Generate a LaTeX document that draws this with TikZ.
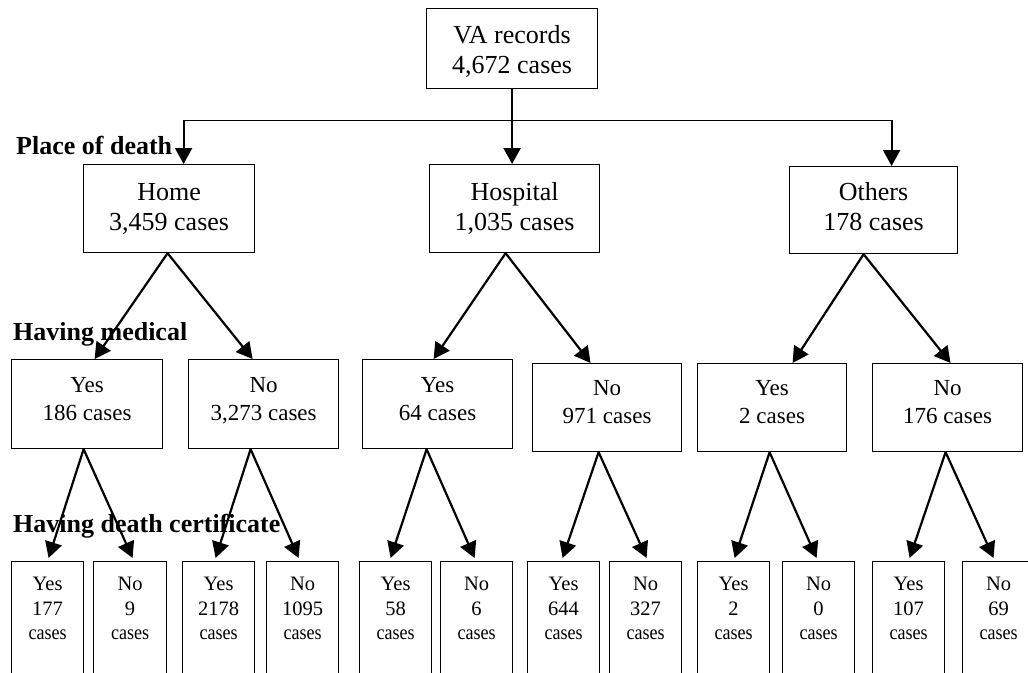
\documentclass[tikz,border=0pt]{standalone}
\usepackage{fontspec}
\setmainfont{Liberation Serif}
\newfontfamily\narrowserif{Liberation Serif}[FakeStretch=0.88]
\usetikzlibrary{arrows.meta}

% stacked, centred lines whose baseline is the first line
\newcommand\twolines[2]{\begin{tabular}[t]{@{}c@{}}#1\\#2\end{tabular}}
\newcommand\certlines[2]{\begin{tabular}[t]{@{}c@{}}#1\\#2\\{\narrowserif cases}\end{tabular}}

\tikzset{
  box/.style={draw, line width=1.2pt, inner sep=0pt, anchor=north west},
  rootbox/.style={box, minimum height=80pt},
  placebox/.style={box, minimum height=88pt},
  medbox/.style={box, minimum height=89pt},
  certbox/.style={box, minimum width=72pt, minimum height=140pt},
  bigtext/.style={anchor=base, inner sep=0pt, font=\fontsize{26}{30}\selectfont},
  midtext/.style={anchor=base, inner sep=0pt, font=\fontsize{23}{28}\selectfont},
  smalltext/.style={anchor=base, inner sep=0pt, font=\fontsize{20.5}{24.5}\selectfont},
  heading/.style={anchor=base west, inner sep=0pt, font=\bfseries\fontsize{26}{30}\selectfont},
  flow/.style={line width=2.2pt, -{Triangle[width=17pt,length=16pt]}},
  bus/.style={line width=1.3pt},
}

\begin{document}
\begin{tikzpicture}[x=1pt,y=-1pt]
\useasboundingbox (0,0) rectangle (1028,672);
\fill[white] (0,0) rectangle (1028,672);
\clip (0,0) rectangle (1028,672);

% ---- root and place of death
\node[rootbox, minimum width=171pt] (va) at (426,8) {};
\node[placebox, minimum width=171pt] (home) at (83,164) {};
\node[placebox, minimum width=170pt] (hosp) at (429,164) {};
\node[placebox, minimum width=168pt, minimum height=87pt] (oth) at (789,166) {};

\node[bigtext] (t-va)   at ([yshift=-35pt]va.north)   {\twolines{VA records}{4,672 cases}};
\node[bigtext] (t-home) at ([yshift=-36pt]home.north) {\twolines{Home}{3,459 cases}};
\node[bigtext] (t-hosp) at ([yshift=-36pt]hosp.north) {\twolines{Hospital}{1,035 cases}};
\node[bigtext] (t-oth)  at ([yshift=-34pt]oth.north)  {\twolines{Others}{178 cases}};

% ---- having medical
\node[medbox, minimum width=151pt] (hy) at (11,359) {};
\node[medbox, minimum width=150pt] (hn) at (188,359) {};
\node[medbox, minimum width=150pt] (py) at (362,359) {};
\node[medbox, minimum width=149pt, minimum height=88pt] (pn) at (532,363) {};
\node[medbox, minimum width=149pt, minimum height=88pt] (oy) at (697,363) {};
\node[medbox, minimum width=150pt, minimum height=88pt] (on) at (872,363) {};

\node[midtext] (t-hy) at ([yshift=-33pt]hy.north) {\twolines{Yes}{186 cases}};
\node[midtext] (t-hn) at ([yshift=-33pt]hn.north) {\twolines{No}{3,273 cases}};
\node[midtext] (t-py) at ([yshift=-33pt]py.north) {\twolines{Yes}{64 cases}};
\node[midtext] (t-pn) at ([yshift=-32pt]pn.north) {\twolines{No}{971 cases}};
\node[midtext] (t-oy) at ([yshift=-32pt]oy.north) {\twolines{Yes}{2 cases}};
\node[midtext] (t-on) at ([yshift=-32pt]on.north) {\twolines{No}{176 cases}};

% ---- having death certificate
\node[certbox] (hyy) at (11,561) {};
\node[certbox, minimum width=73pt] (hyn) at (93,561) {};
\node[certbox] (hny) at (182,561) {};
\node[certbox] (hnn) at (266,561) {};
\node[certbox] (pyy) at (359,561) {};
\node[certbox] (pyn) at (440,561) {};
\node[certbox] (pny) at (527,561) {};
\node[certbox] (pnn) at (609,561) {};
\node[certbox] (oyy) at (697,561) {};
\node[certbox] (oyn) at (782,561) {};
\node[certbox] (ony) at (872,561) {};
\node[certbox] (onn) at (962,561) {};

\node[smalltext] (t-hyy) at ([yshift=-29.5pt]hyy.north) {\certlines{Yes}{177}};
\node[smalltext] (t-hyn) at ([yshift=-29.5pt]hyn.north) {\certlines{No}{9}};
\node[smalltext] (t-hny) at ([yshift=-29.5pt]hny.north) {\certlines{Yes}{2178}};
\node[smalltext] (t-hnn) at ([yshift=-29.5pt]hnn.north) {\certlines{No}{1095}};
\node[smalltext] (t-pyy) at ([yshift=-29.5pt]pyy.north) {\certlines{Yes}{58}};
\node[smalltext] (t-pyn) at ([yshift=-29.5pt]pyn.north) {\certlines{No}{6}};
\node[smalltext] (t-pny) at ([yshift=-29.5pt]pny.north) {\certlines{Yes}{644}};
\node[smalltext] (t-pnn) at ([yshift=-29.5pt]pnn.north) {\certlines{No}{327}};
\node[smalltext] (t-oyy) at ([yshift=-29.5pt]oyy.north) {\certlines{Yes}{2}};
\node[smalltext] (t-oyn) at ([yshift=-29.5pt]oyn.north) {\certlines{No}{0}};
\node[smalltext] (t-ony) at ([yshift=-29.5pt]ony.north) {\certlines{Yes}{107}};
\node[smalltext] (t-onn) at ([yshift=-29.5pt]onn.north) {\certlines{No}{69}};

% ---- level headings
\node[heading] (h-place) at (16,154) {Place of death};
\node[heading] (h-med)   at (13,340) {Having medical};
\node[heading] (h-cert)  at (13,532) {Having death certificate};

% ---- root split
\coordinate (split) at ([yshift=-31pt]va.south);
\coordinate (drop-home) at ([xshift=14.5pt]home.north);
\coordinate (drop-oth) at ([xshift=18pt]oth.north);
\draw[bus] (drop-home |- split) -- (drop-oth |- split);
\draw[flow] (va.south) -- (va.south |- hosp.north);
\draw[flow] (drop-home |- split) -- (drop-home);
\draw[flow] (drop-oth |- split) -- (drop-oth);

% ---- place -> medical
\draw[flow] ([xshift=-1.5pt]home.south) -- ([xshift=7.5pt]hy.north);
\draw[flow] ([xshift=-1.5pt]home.south) -- ([xshift=-11pt]hn.north);
\draw[flow] ([xshift=-9pt]hosp.south) -- ([xshift=-4pt]py.north);
\draw[flow] ([xshift=-9pt]hosp.south) -- ([xshift=-16.5pt]pn.north);
\draw[flow] ([xshift=-10pt]oth.south) -- ([xshift=20.5pt]oy.north);
\draw[flow] ([xshift=-10pt]oth.south) -- ([xshift=3pt]on.north);

% ---- medical -> certificate
\draw[flow] ([xshift=-3.5pt]hy.south) -- ([xshift=1pt,yshift=3pt]hyy.north);
\draw[flow] ([xshift=-3.5pt]hy.south) -- ([xshift=2.5pt,yshift=3pt]hyn.north);
\draw[flow] ([xshift=-13pt]hn.south) -- ([xshift=-3pt,yshift=3pt]hny.north);
\draw[flow] ([xshift=-13pt]hn.south) -- ([xshift=-4pt,yshift=3pt]hnn.north);
\draw[flow] ([xshift=-11pt]py.south) -- ([xshift=-5pt,yshift=3pt]pyy.north);
\draw[flow] ([xshift=-11pt]py.south) -- ([xshift=-2pt,yshift=3pt]pyn.north);
\draw[flow] ([xshift=-8.5pt]pn.south) -- ([xshift=-1pt,yshift=3pt]pny.north);
\draw[flow] ([xshift=-8.5pt]pn.south) -- ([xshift=1pt,yshift=3pt]pnn.north);
\draw[flow] ([xshift=-2.5pt]oy.south) -- ([xshift=1pt,yshift=3pt]oyy.north);
\draw[flow] ([xshift=-2.5pt]oy.south) -- ([xshift=-2pt,yshift=3pt]oyn.north);
\draw[flow] ([xshift=-2pt]on.south) -- ([xshift=1pt,yshift=3pt]ony.north);
\draw[flow] ([xshift=-2pt]on.south) -- ([xshift=-5pt,yshift=3pt]onn.north);
\end{tikzpicture}
\end{document}
